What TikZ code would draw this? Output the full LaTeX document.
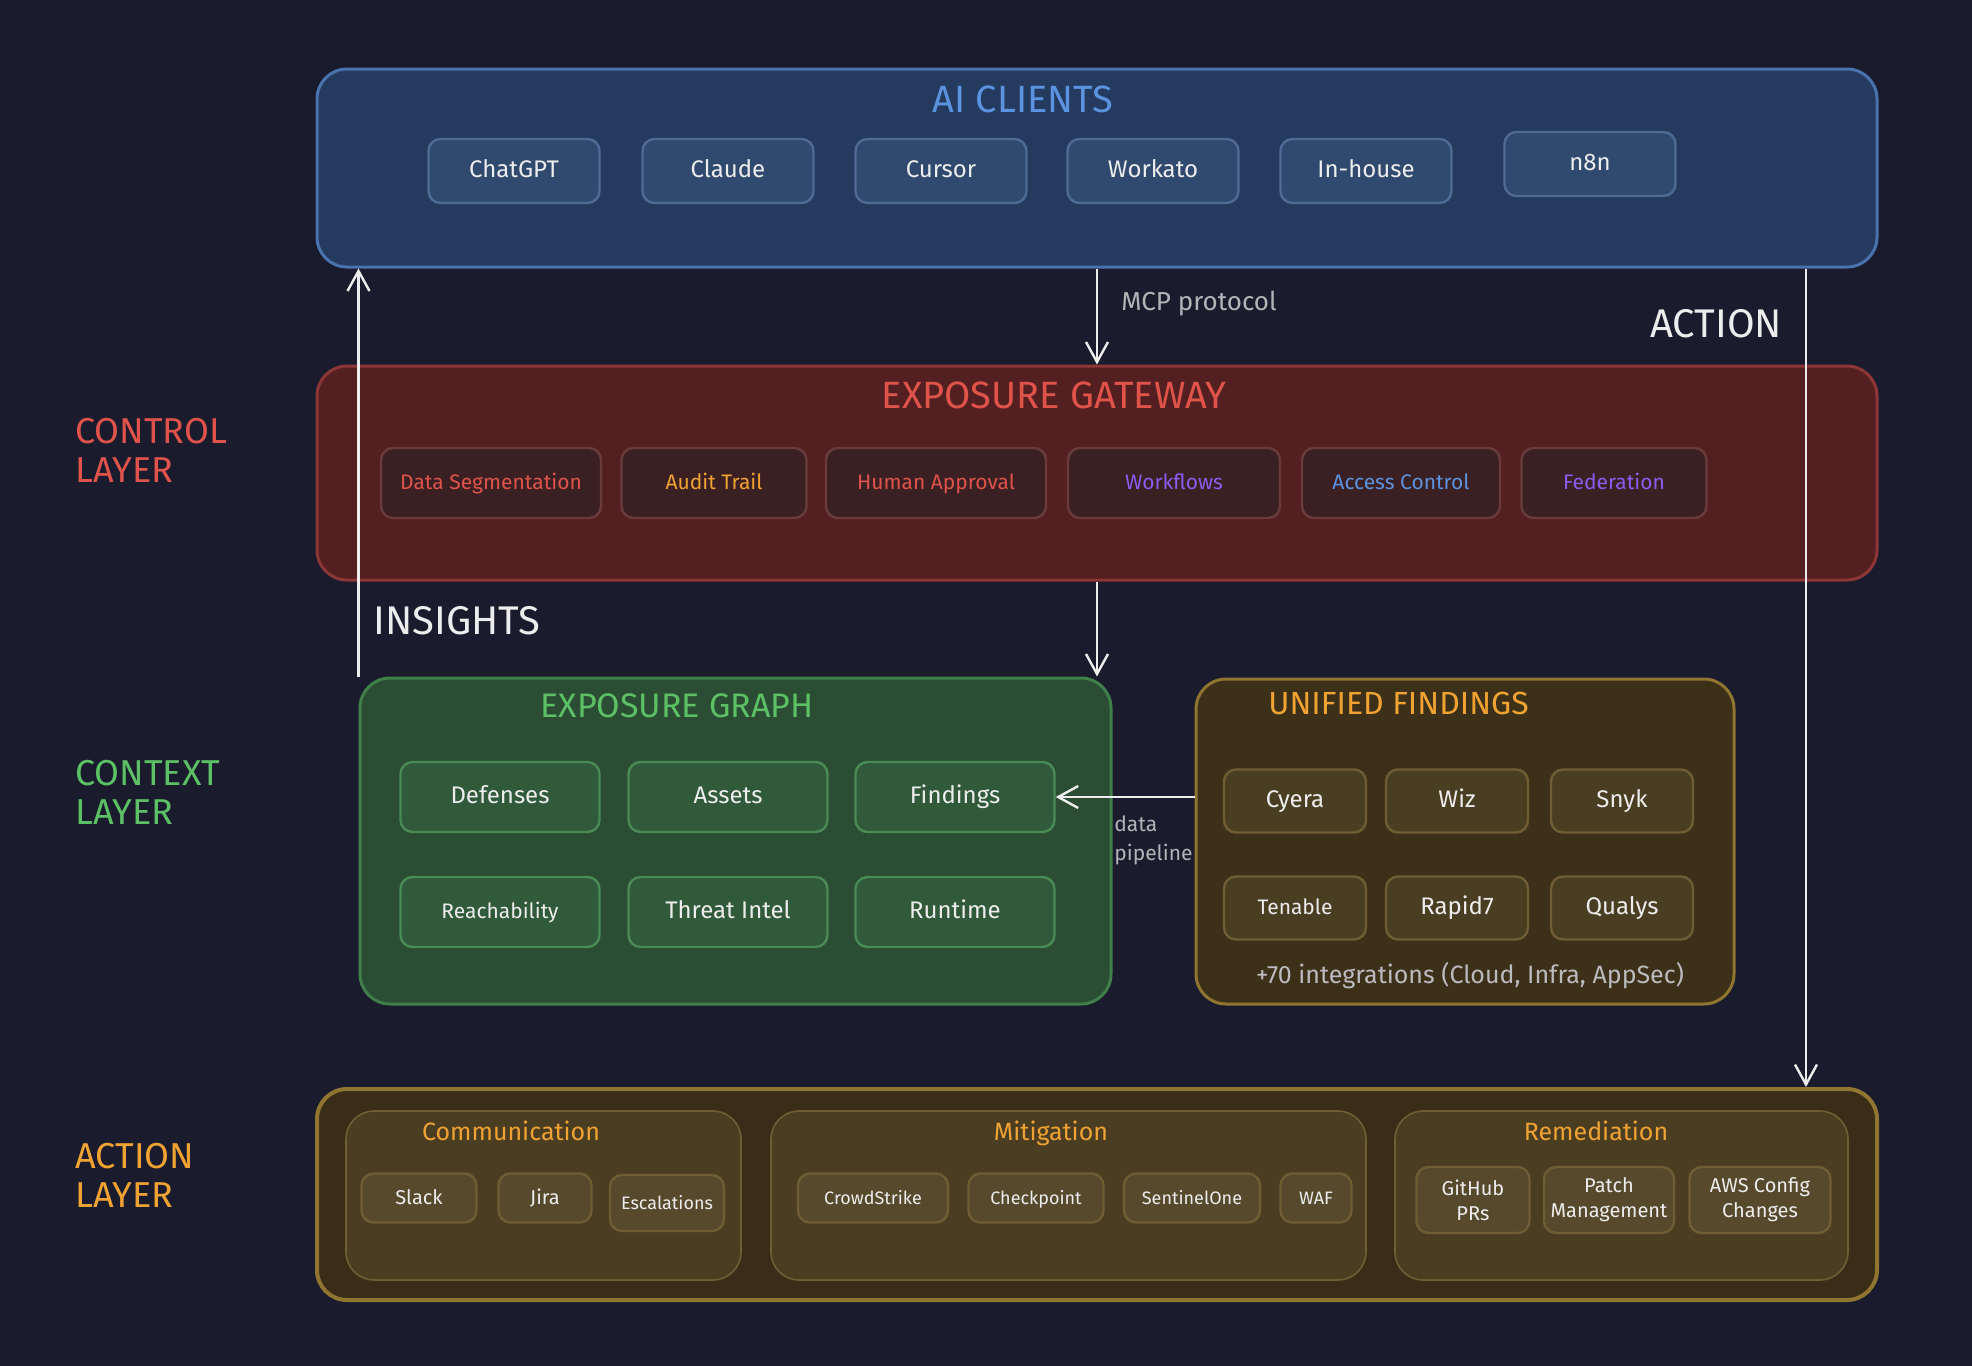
\documentclass[tikz,border=0pt]{standalone}
\usepackage{fontspec}
\setmainfont{Fira Sans}
\usetikzlibrary{arrows.meta}
\definecolor{bg}{HTML}{1A1B2D}
\definecolor{txt}{HTML}{EDEDED}
\definecolor{gray}{HTML}{B4B4B8}
\definecolor{aifill}{HTML}{243A5E}
\definecolor{aistroke}{HTML}{4A72AE}
\definecolor{aiitem}{HTML}{2F4A6E}
\definecolor{aiitemd}{HTML}{4F6B95}
\definecolor{aititle}{HTML}{5B93E0}
\definecolor{gwfill}{HTML}{541F20}
\definecolor{gwstroke}{HTML}{8C3636}
\definecolor{gwitem}{HTML}{3A2022}
\definecolor{gwitemd}{HTML}{6A3B3B}
\definecolor{red}{HTML}{E0534B}
\definecolor{orange}{HTML}{F0A332}
\definecolor{purple}{HTML}{8C5CF0}
\definecolor{blue}{HTML}{5B93E0}
\definecolor{grfill}{HTML}{2A4D33}
\definecolor{grstroke}{HTML}{3F7F4A}
\definecolor{gritem}{HTML}{305A3A}
\definecolor{gritemd}{HTML}{4A8A55}
\definecolor{green}{HTML}{5CC064}
\definecolor{ufill}{HTML}{3D3018}
\definecolor{ustroke}{HTML}{8F7530}
\definecolor{uitem}{HTML}{4A3E22}
\definecolor{uitemd}{HTML}{6E5D35}
\definecolor{afill}{HTML}{3A2D17}
\definecolor{asub}{HTML}{4A3D22}
\definecolor{aitem}{HTML}{574A2C}
\tikzset{
  x=0.5pt, y=-0.5pt,
  outer/.style={draw, line width=1.5pt, rounded corners=15pt, inner sep=0pt},
  item/.style={draw, line width=1.2pt, rounded corners=6pt, inner sep=0pt, text=txt, align=center},
  oneline/.style={text height=1.6ex, text depth=0.35ex},
  title/.style={font=\fontsize{17}{20}\selectfont},
  layer/.style={anchor=west, align=left, inner sep=0pt, font=\fontsize{18}{19.5}\selectfont},
  arr/.style={draw=txt, line width=1.2pt, -{Straight Barb[length=10pt,width=11pt,line width=1.2pt]}},
  aiitemst/.style={item, oneline, fill=aiitem, draw=aiitemd, minimum width=85.5pt, minimum height=32pt, font=\fontsize{12}{14}\selectfont},
  gwitemst/.style={item, oneline, fill=gwitem, draw=gwitemd, minimum height=35pt, font=\fontsize{10.5}{12}\selectfont},
  gritemst/.style={item, oneline, fill=gritem, draw=gritemd, minimum width=99.5pt, minimum height=35pt, font=\fontsize{12}{14}\selectfont},
  uitemst/.style={item, oneline, fill=uitem, draw=uitemd, minimum width=71pt, minimum height=31.5pt, font=\fontsize{12}{14}\selectfont},
  subbox/.style={draw=uitemd, fill=asub, line width=0.8pt, rounded corners=14pt, inner sep=0pt, minimum height=84.5pt},
  sitem/.style={item, fill=aitem, draw=uitemd, minimum height=24.5pt, font=\fontsize{10}{12}\selectfont},
}
\begin{document}
\begin{tikzpicture}
\fill[bg] (0,0) rectangle (1972,1366);
\useasboundingbox (0,0) rectangle (1972,1366);

% layer labels
\node[layer, text=red] (lctl) at (75,450) {CONTROL\\LAYER};
\node[layer, text=green] (lctx) at (75,792) {CONTEXT\\LAYER};
\node[layer, text=orange] (lact) at (75,1175) {ACTION\\LAYER};

% AI clients
\node[outer, fill=aifill, draw=aistroke, minimum width=780pt, minimum height=99pt] (ai) at (1097,168) {};
\node[title, text=aititle, font=\fontsize{19}{22}\selectfont] (aititle) at (1023,99) {AI CLIENTS};
\node[aiitemst] (c1) at (514,171) {ChatGPT};
\node[aiitemst] (c2) at (728,171) {Claude};
\node[aiitemst] (c3) at (941,171) {Cursor};
\node[aiitemst] (c4) at (1153,171) {Workato};
\node[aiitemst] (c5) at (1366,171) {In-house};
\node[aiitemst] (c6) at (1590,164) {n8n};

% Exposure gateway
\node[outer, fill=gwfill, draw=gwstroke, minimum width=780pt, minimum height=107pt] (gw) at (1097,473) {};
\node[title, text=red, font=\fontsize{19}{22}\selectfont] (gwtitle) at (1054,395) {EXPOSURE GATEWAY};
\node[gwitemst, minimum width=110pt, text=red] (g1) at (491,483) {Data Segmentation};
\node[gwitemst, minimum width=92.5pt, text=orange] (g2) at (714,483) {Audit Trail};
\node[gwitemst, minimum width=110pt, text=red] (g3) at (936,483) {Human Approval};
\node[gwitemst, minimum width=106pt, text=purple] (g4) at (1174,483) {Workflows};
\node[gwitemst, minimum width=99pt, text=blue] (g5) at (1401,483) {Access Control};
\node[gwitemst, minimum width=92.5pt, text=purple] (g6) at (1614,483) {Federation};

% Exposure graph
\node[outer, fill=grfill, draw=grstroke, minimum width=375.5pt, minimum height=163pt] (graph) at (735.5,841) {};
\node[title, text=green] (grtitle) at (677,706) {EXPOSURE GRAPH};
\node[gritemst] (e1) at (500,797) {Defenses};
\node[gritemst] (e2) at (728,797) {Assets};
\node[gritemst] (e3) at (955,797) {Findings};
\node[gritemst, font=\fontsize{10.5}{12}\selectfont] (e4) at (500,912) {Reachability};
\node[gritemst] (e5) at (728,912) {Threat Intel};
\node[gritemst] (e6) at (955,912) {Runtime};

% Unified findings
\node[outer, fill=ufill, draw=ustroke, minimum width=269pt, minimum height=162.5pt] (uf) at (1465,841.5) {};
\node[title, text=orange, anchor=west, inner sep=0pt, font=\fontsize{16}{19}\selectfont] (uftitle) at (1268,703) {UNIFIED FINDINGS};
\node[uitemst] (u1) at (1295,801) {Cyera};
\node[uitemst] (u2) at (1457,801) {Wiz};
\node[uitemst] (u3) at (1622,801) {Snyk};
\node[uitemst, font=\fontsize{10.5}{12}\selectfont] (u4) at (1295,908) {Tenable};
\node[uitemst] (u5) at (1457,908) {Rapid7};
\node[uitemst] (u6) at (1622,908) {Qualys};
\node[text=gray!90!white, font=\fontsize{12.5}{15}\selectfont] (ufnote) at (1470,976) {+70 integrations (Cloud, Infra, AppSec)};

% Action layer
\node[outer, fill=afill, draw=ustroke, line width=2pt, minimum width=780pt, minimum height=105.5pt] (act) at (1097,1194.5) {};
\node[subbox, minimum width=197.5pt] (comm) at (543.5,1195.5) {};
\node[subbox, minimum width=297.5pt] (mit) at (1068.5,1195.5) {};
\node[subbox, minimum width=226.5pt] (rem) at (1621.5,1195.5) {};
\node[text=orange, oneline, font=\fontsize{12.5}{15}\selectfont] (commt) at (511,1134) {Communication};
\node[text=orange, oneline, font=\fontsize{12.5}{15}\selectfont] (mitt) at (1051,1134) {Mitigation};
\node[text=orange, oneline, font=\fontsize{12.5}{15}\selectfont] (remt) at (1596,1134) {Remediation};
\node[sitem, oneline, minimum width=57.5pt] (a1) at (419,1198) {Slack};
\node[sitem, oneline, minimum width=46.5pt] (a2) at (545,1198) {Jira};
\node[sitem, oneline, minimum width=57pt, minimum height=28pt, font=\fontsize{9}{11}\selectfont] (a3) at (667,1203) {Escalations};
\node[sitem, oneline, minimum width=75pt, font=\fontsize{9}{11}\selectfont] (m1) at (873,1198) {CrowdStrike};
\node[sitem, oneline, minimum width=67.5pt, font=\fontsize{9}{11}\selectfont] (m2) at (1036,1198) {Checkpoint};
\node[sitem, oneline, minimum width=68pt, font=\fontsize{9}{11}\selectfont] (m3) at (1192,1198) {SentinelOne};
\node[sitem, oneline, minimum width=35.5pt, font=\fontsize{9}{11}\selectfont] (m4) at (1316,1198) {WAF};
\node[sitem, minimum width=56.5pt, minimum height=33pt, font=\fontsize{10}{12.5}\selectfont] (r1) at (1473,1200) {GitHub\\PRs};
\node[sitem, minimum width=65pt, minimum height=33pt, font=\fontsize{10}{12.5}\selectfont] (r2) at (1609,1200) {Patch\\Management};
\node[sitem, minimum width=70.5pt, minimum height=33pt, font=\fontsize{10}{12.5}\selectfont] (r3) at (1760,1200) {AWS Config\\Changes};

% connectors
\coordinate (actx) at (1806,0);
\draw[arr] (ai.south) -- (gw.north);
\draw[arr] (gw.south) -- (graph.north -| gw.south);
\draw[arr] (graph.north west) -- (ai.south -| graph.north west);
\draw[arr] (ai.south -| actx) -- (act.north -| actx);
\draw[arr] (uf.west |- e3.east) -- (e3.east);

% connector labels
\node[text=gray, anchor=west, inner sep=0pt, font=\fontsize{13}{15}\selectfont] (mcpl) at (1121,304) {MCP protocol};
\node[text=txt, font=\fontsize{20}{23}\selectfont] (actl) at (1716,324) {ACTION};
\node[text=txt, anchor=west, inner sep=0pt, font=\fontsize{20}{23}\selectfont] (insl) at (373,621) {INSIGHTS};
\node[text=gray, anchor=west, align=left, font=\fontsize{10.5}{14.5}\selectfont, inner sep=0pt] (dpl) at (1114,840) {data\\pipeline};
\end{tikzpicture}
\end{document}
